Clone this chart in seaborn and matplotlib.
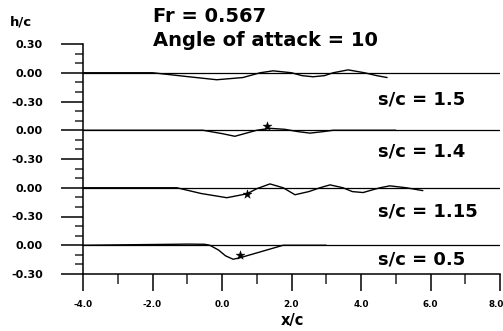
import numpy as np
import pandas as pd
import matplotlib
matplotlib.use("Agg")
import matplotlib.pyplot as plt
import matplotlib.transforms as mtransforms
import seaborn as sns

# ---- data ----
panel_labels = ["s/c = 1.5", "s/c = 1.4", "s/c = 1.15", "s/c = 0.5"]
panel_offsets = [0.0, -0.6, -1.2, -1.8]

x_s15 = [-4.0, -2.0, -1.0, -0.15, 0.6, 1.1, 1.47, 2.0, 2.3, 2.62, 2.95, 3.2, 3.63, 4.1, 4.45, 4.75]
h_s15 = [0.0, 0.0, -0.04, -0.073, -0.05, 0.0, 0.02, 0.0, -0.03, -0.042, -0.03, 0.0, 0.03, 0.0, -0.03, -0.05]

x_s14 = [-4.0, -0.55, 0.0, 0.37, 0.7, 1.0, 1.38, 1.8, 2.2, 2.53, 2.9, 3.2, 4.0, 5.0]
h_s14 = [0.0, 0.0, -0.035, -0.063, -0.03, 0.0, 0.02, 0.01, -0.015, -0.03, -0.015, 0.0, 0.0, 0.0]

x_s115 = [-4.0, -1.3, -0.6, 0.14, 0.72, 1.0, 1.38, 1.76, 2.1, 2.5, 2.82, 3.11, 3.48, 3.75, 4.06, 4.35, 4.55, 4.83, 5.3, 5.78]
h_s115 = [0.0, 0.0, -0.06, -0.104, -0.063, -0.01, 0.04, 0.0, -0.073, -0.04, 0.0, 0.03, 0.0, -0.04, -0.05, -0.02, 0.0, 0.02, 0.0, -0.03]

x_s05 = [-4.0, -1.4, -1.0, -0.5, -0.35, -0.1, 0.1, 0.32, 0.52, 1.0, 1.76, 3.0]
h_s05 = [0.0, 0.01, 0.012, 0.01, 0.0, -0.05, -0.11, -0.146, -0.13, -0.08, 0.0, 0.0]

star_x = [1.29, 0.72, 0.52]
star_h = [0.04, -0.063, -0.104]
star_panel = [1, 2, 3]

x_ticks = [-4.0, -2.0, 0.0, 2.0, 4.0, 6.0, 8.0]
x_ticklabels = ["-4.0", "-2.0", "0.0", "2.0", "4.0", "6.0", "8.0"]
y_ticks = [0.3, 0.0, -0.3, -0.6, -0.9, -1.2, -1.5, -1.8, -2.1]
y_ticklabels = ["0.30", "0.00", "-0.30", "0.00", "-0.30", "0.00", "-0.30", "0.00", "-0.30"]

# ---- build long-form data ----
series = [(x_s15, h_s15), (x_s14, h_s14), (x_s115, h_s115), (x_s05, h_s05)]
rows = []
for i, (xs, hs) in enumerate(series):
    for xv, hv in zip(xs, hs):
        rows.append({"panel": i, "x": xv, "y": hv + panel_offsets[i]})
df = pd.DataFrame(rows)

base_rows = []
for i, off in enumerate(panel_offsets):
    base_rows.append({"panel": i, "x": x_ticks[0], "y": off})
    base_rows.append({"panel": i, "x": x_ticks[-1], "y": off})
df_base = pd.DataFrame(base_rows)

df_star = pd.DataFrame({"x": star_x,
                        "y": [h + panel_offsets[p] for h, p in zip(star_h, star_panel)]})

sns.set_style("ticks")
plt.rcParams["font.family"] = ["DejaVu Sans"]

fig = plt.figure(figsize=(5.03, 3.31), dpi=100)
ax = fig.add_axes([83 / 503, 1 - 274 / 331, (500 - 83) / 503, (274 - 44) / 331])

sns.lineplot(data=df_base, x="x", y="y", units="panel", estimator=None, sort=False,
             color="black", linewidth=0.9, ax=ax, legend=False)
sns.lineplot(data=df, x="x", y="y", units="panel", estimator=None, sort=False,
             color="black", linewidth=1.0, ax=ax, legend=False)
sns.scatterplot(data=df_star, x="x", y="y", marker="*", s=45, color="black",
                edgecolor="black", linewidth=0.3, ax=ax, zorder=5)

ax.set_xlim(-4, 8)
ax.set_ylim(-2.1, 0.3)
ax.set_xlabel("")
ax.set_ylabel("")

ax.set_xticks(x_ticks)
ax.set_xticklabels(x_ticklabels, fontsize=6.3, fontweight="bold")
ax.set_xticks([-3, -1, 1, 3, 5, 7], minor=True)
ax.set_yticks(y_ticks)
ax.set_yticklabels(y_ticklabels, fontsize=8, fontweight="bold")
minor_y = [v / 10 for v in range(-21, 4) if v % 3 != 0]
ax.set_yticks(minor_y, minor=True)

ax.tick_params(axis="x", which="major", length=12, width=1.1, pad=7, colors="black")
ax.tick_params(axis="x", which="minor", length=7, width=1.1)
ax.tick_params(axis="y", which="major", length=16, width=1.1, pad=13, colors="black")
ax.tick_params(axis="y", which="minor", length=5.5, width=1.1)

# nudge the last x tick label so it stays inside the canvas
last = ax.get_xticklabels()[-1]
last.set_transform(last.get_transform() +
                   mtransforms.ScaledTranslation(-4 / 100, 0, fig.dpi_scale_trans))

for side in ["top", "right"]:
    ax.spines[side].set_visible(False)
for side in ["left", "bottom"]:
    ax.spines[side].set_linewidth(1.1)
    ax.spines[side].set_color("black")

def ft(px, py, s, size, ha="left"):
    fig.text(px / 503, 1 - py / 331, s, fontsize=size, fontweight="bold",
             ha=ha, va="center", color="black")

ft(10, 22, "h/c", 9.5)
ft(153, 17, "Fr = 0.567", 14)
ft(153, 41, "Angle of attack = 10", 14)
for lab, py in zip(panel_labels, [100, 152, 212, 259]):
    ft(378, py, lab, 13)
ft(292, 320, "x/c", 10.5, ha="center")

fig.savefig("out.png", dpi=100)
